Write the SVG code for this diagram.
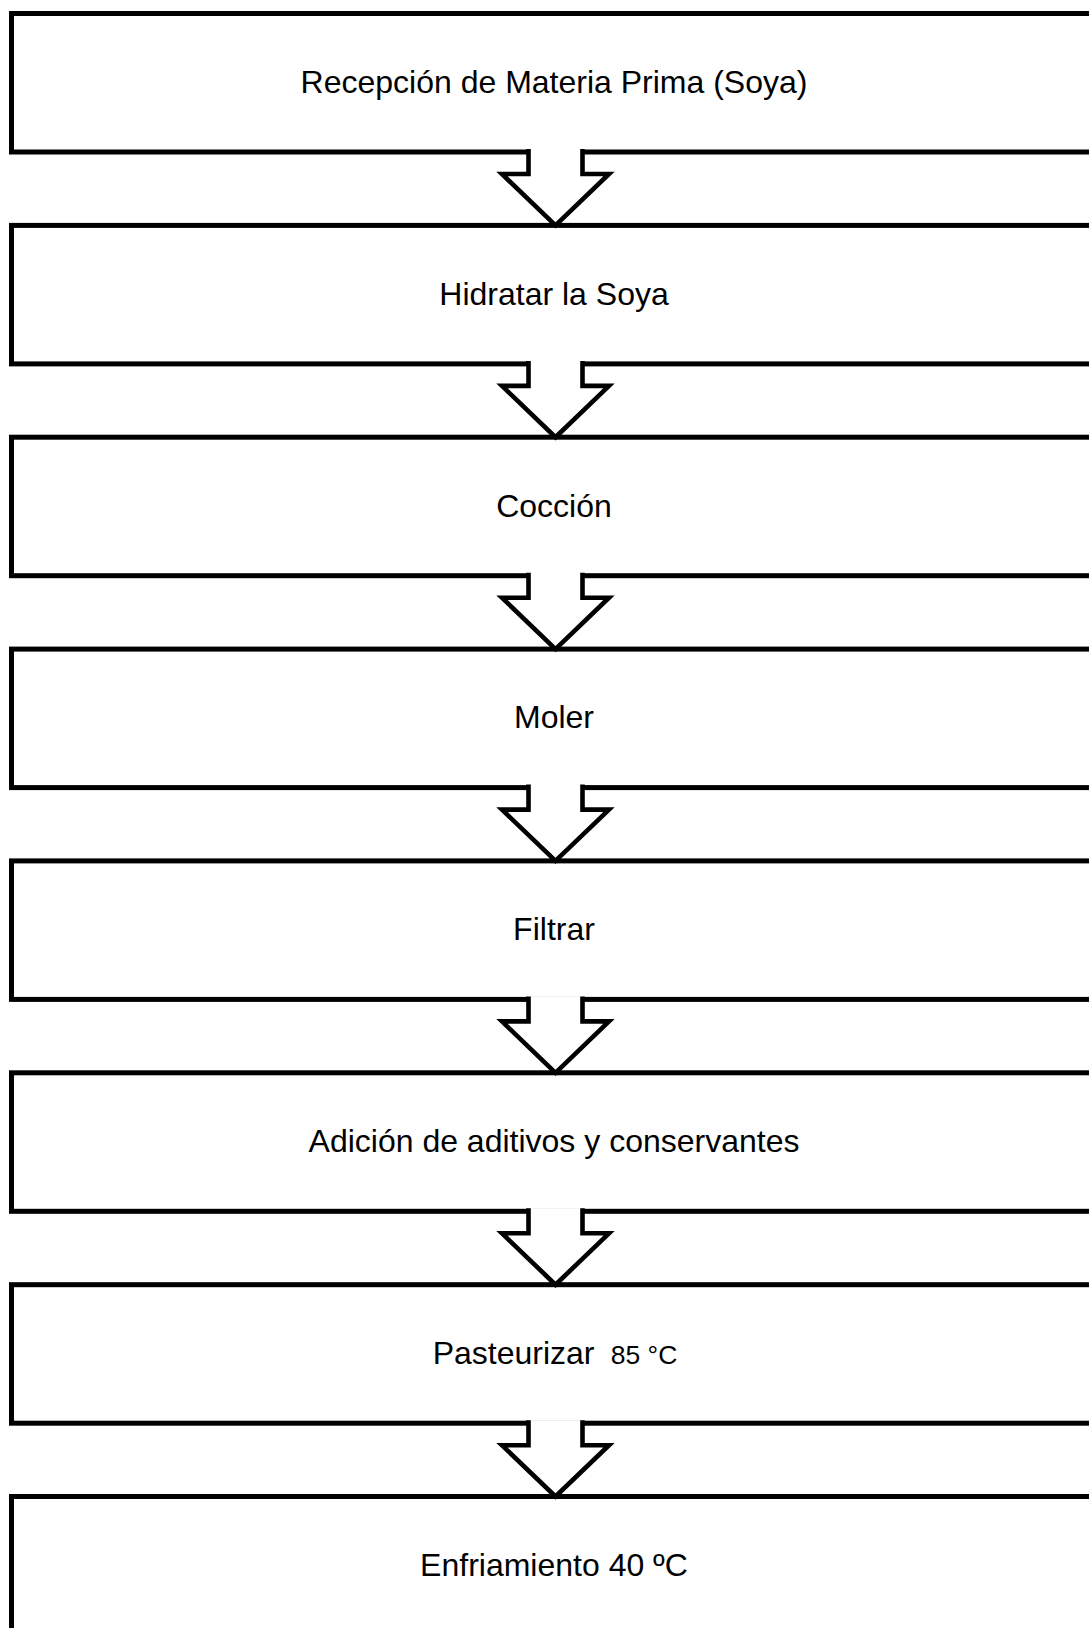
<svg xmlns="http://www.w3.org/2000/svg" width="1089" height="1628" viewBox="0 0 1089 1628">
<style>
.box{fill:#fff;stroke:#000;stroke-width:5}
.arr{fill:#fff;stroke:#000;stroke-width:4.6;stroke-linejoin:miter;stroke-miterlimit:10}
.lbl{font-family:"Liberation Sans",Arial,sans-serif;font-size:32px;fill:#000;text-anchor:middle}
.sm{font-size:26.5px}
</style>
<rect width="1089" height="1628" fill="#fff"/>
<g id="n1"><rect class="box" x="11.5" y="13.5" width="1100" height="138.5"/><text class="lbl" x="554" y="92.8">Recepción de Materia Prima (Soya)</text></g>
<g id="n2"><rect class="box" x="11.5" y="225.4" width="1100" height="138.5"/><text class="lbl" x="554" y="304.7">Hidratar la Soya</text></g>
<g id="n3"><rect class="box" x="11.5" y="437.2" width="1100" height="138.5"/><text class="lbl" x="554" y="516.5">Cocción</text></g>
<g id="n4"><rect class="box" x="11.5" y="649.1" width="1100" height="138.5"/><text class="lbl" x="554" y="728.4">Moler</text></g>
<g id="n5"><rect class="box" x="11.5" y="860.9" width="1100" height="138.5"/><text class="lbl" x="554" y="940.2">Filtrar</text></g>
<g id="n6"><rect class="box" x="11.5" y="1072.8" width="1100" height="138.5"/><text class="lbl" x="554" y="1152.1">Adición de aditivos y conservantes</text></g>
<g id="n7"><rect class="box" x="11.5" y="1284.7" width="1100" height="138.5"/><text class="lbl" x="555" y="1364">Pasteurizar <tspan class="sm">&#160;85 °C</tspan></text></g>
<g id="n8"><rect class="box" x="11.5" y="1496.5" width="1100" height="138.5"/><text class="lbl" x="554" y="1575.8">Enfriamiento 40 ºC</text></g>
<g id="connectors">
<path class="arr" d="M528.5,149 V174 H502 L555.5,225.4 L609,174 H582.5 V149"/>
<path class="arr" d="M528.5,360.9 V385.9 H502 L555.5,437.2 L609,385.9 H582.5 V360.9"/>
<path class="arr" d="M528.5,572.7 V597.7 H502 L555.5,649.1 L609,597.7 H582.5 V572.7"/>
<path class="arr" d="M528.5,784.6 V809.6 H502 L555.5,860.9 L609,809.6 H582.5 V784.6"/>
<path class="arr" d="M528.5,996.4 V1021.4 H502 L555.5,1072.8 L609,1021.4 H582.5 V996.4"/>
<path class="arr" d="M528.5,1208.3 V1233.3 H502 L555.5,1284.7 L609,1233.3 H582.5 V1208.3"/>
<path class="arr" d="M528.5,1420.2 V1445.2 H502 L555.5,1496.5 L609,1445.2 H582.5 V1420.2"/>
</g>
</svg>
